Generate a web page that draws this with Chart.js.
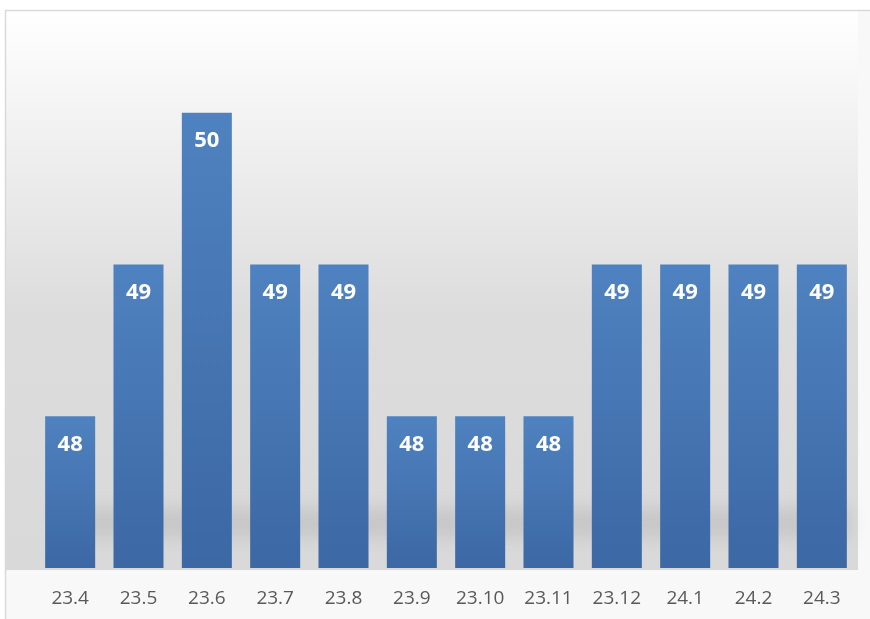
<!DOCTYPE html>
<html>
<head>
<meta charset="utf-8">
<script src="https://cdn.jsdelivr.net/npm/chart.js@4.4.0/dist/chart.umd.min.js"></script>
<style>
  html, body { margin: 0; padding: 0; background: #fff; }
  #wrap { width: 870px; height: 619px; position: relative; }
</style>
</head>
<body>
<div id="wrap"><canvas id="barChart"></canvas></div>
<script>
var months = ['23.4', '23.5', '23.6', '23.7', '23.8', '23.9', '23.10', '23.11', '23.12', '24.1', '24.2', '24.3'];
var scores = [48, 49, 50, 49, 49, 48, 48, 48, 49, 49, 49, 49];
var yMin = 47;
var yMax = 50.5;

// frame + grey gradient backdrop like the office chart style
var backdrop = {
    id: 'backdrop',
    beforeDraw: function(chart) {
        var ctx = chart.ctx;
        var bottom = chart.scales.y.getPixelForValue(yMin);
        ctx.save();
        ctx.fillStyle = '#f8f8f8';
        ctx.fillRect(5, 10, 865, 609);
        var g = ctx.createLinearGradient(0, 10, 0, bottom);
        g.addColorStop(0, '#ffffff');
        g.addColorStop(0.55, '#dcdcdc');
        g.addColorStop(1, '#d9d9d9');
        ctx.fillStyle = g;
        ctx.fillRect(6, 11, 852, bottom - 9);
        // soft floor shadow
        ctx.filter = 'blur(8px)';
        ctx.fillStyle = 'rgba(160,160,160,0.3)';
        ctx.fillRect(60, bottom - 60, 790, 30);
        ctx.filter = 'none';
        ctx.strokeStyle = '#d9d9d9';
        ctx.lineWidth = 1.5;
        ctx.strokeRect(5.5, 10.5, 870, 620);
        ctx.restore();
    }
};

var valueLabels = {
    id: 'valueLabels',
    afterDatasetsDraw: function(chart) {
        var ctx = chart.ctx;
        var meta = chart.getDatasetMeta(0);
        ctx.save();
        ctx.fillStyle = '#ffffff';
        ctx.font = 'bold 22px "Open Sans", sans-serif';
        ctx.textAlign = 'center';
        ctx.textBaseline = 'middle';
        meta.data.forEach(function(bar, i) {
            ctx.fillText(scores[i], bar.x, bar.y + 28);
        });
        ctx.restore();
    }
};

var ctx = document.getElementById('barChart').getContext('2d');
new Chart(ctx, {
    type: 'bar',
    data: {
        labels: months,
        datasets: [{
            data: scores,
            backgroundColor: function(c) {
                var chart = c.chart;
                if (!chart.chartArea) return '#4a78b5';
                var y = chart.scales.y;
                var top = y.getPixelForValue(scores[c.dataIndex]);
                var bot = y.getPixelForValue(yMin);
                var g = chart.ctx.createLinearGradient(0, top, 0, bot);
                g.addColorStop(0, '#4f82c0');
                g.addColorStop(1, '#3c68a4');
                return g;
            },
            borderWidth: 0,
            barPercentage: 0.732,
            categoryPercentage: 1
        }]
    },
    options: {
        responsive: true,
        maintainAspectRatio: false,
        animation: false,
        layout: { padding: { left: 36, right: 14, top: 37, bottom: 0 } },
        plugins: {
            legend: { display: false },
            tooltip: { enabled: false }
        },
        scales: {
            x: {
                grid: { display: false, drawTicks: false },
                border: { display: false },
                ticks: {
                    color: '#595959',
                    font: { size: 19, family: 'Open Sans' },
                    padding: 19,
                    maxRotation: 0
                },
                afterFit: function(s) { s.height = 51; }
            },
            y: {
                display: false,
                min: yMin,
                max: yMax
            }
        }
    },
    plugins: [backdrop, valueLabels]
});
</script>
</body>
</html>
